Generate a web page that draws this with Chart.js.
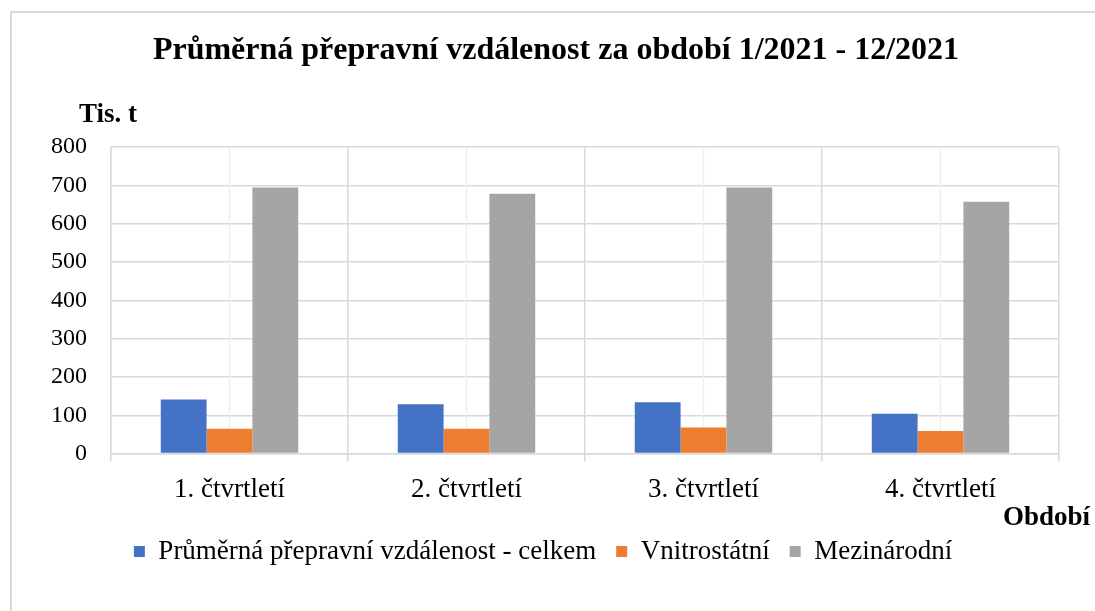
<!DOCTYPE html>
<html>
<head>
<meta charset="utf-8">
<script src="https://cdn.jsdelivr.net/npm/chart.js@4"></script>
<style>
    html, body { margin: 0; padding: 0; background: #fff; }
    #wrap { position: relative; width: 1095px; height: 611px; }
    #frame { position: absolute; left: 10px; top: 11px; right: -5px; bottom: -5px;
             border-left: 2px solid #d9d9d9; border-top: 2px solid #d9d9d9; }
    canvas { position: absolute; left: 0; top: 0; }
</style>
</head>
<body>
<div id="wrap">
    <div id="frame"></div>
    <canvas id="distChart" width="1095" height="611"></canvas>
</div>
<script>
// Data
const quarters = ['1. čtvrtletí', '2. čtvrtletí', '3. čtvrtletí', '4. čtvrtletí'];
const celkem = [141, 129, 134, 104];
const vnitrostatni = [65, 65, 68, 59];
const mezinarodni = [694, 678, 694, 657];
const yTicks = [0, 100, 200, 300, 400, 500, 600, 700, 800];

const chartTitle = 'Průměrná přepravní vzdálenost za období 1/2021 - 12/2021';
const serif = '"Liberation Serif", "Times New Roman", serif';

// Title, axis titles and light centre gridlines
const extras = {
    id: 'extras',
    beforeDatasetsDraw(chart) {
        const ctx = chart.ctx;
        const x = chart.scales.x;
        const area = chart.chartArea;
        ctx.save();
        ctx.strokeStyle = '#efefef';
        ctx.lineWidth = 1.5;
        quarters.forEach(function (q, i) {
            const px = x.getPixelForValue(i);
            ctx.beginPath();
            ctx.moveTo(px, area.top);
            ctx.lineTo(px, area.bottom);
            ctx.stroke();
        });
        ctx.restore();
    },
    afterDraw(chart) {
        const ctx = chart.ctx;
        ctx.save();
        ctx.fillStyle = '#000';
        ctx.textAlign = 'center';
        ctx.textBaseline = 'middle';
        ctx.font = 'bold 32px ' + serif;
        ctx.fillText(chartTitle, 556, 51);
        ctx.font = 'bold 27px ' + serif;
        ctx.fillText('Tis. t', 108, 115);
        ctx.textAlign = 'right';
        ctx.fillText('Období', 1090, 518);
        ctx.restore();
    }
};

new Chart(document.getElementById('distChart'), {
    type: 'bar',
    data: {
        labels: quarters,
        datasets: [
            { label: 'Průměrná přepravní vzdálenost - celkem', data: celkem, backgroundColor: '#4472c4' },
            { label: 'Vnitrostátní', data: vnitrostatni, backgroundColor: '#ed7d31' },
            { label: 'Mezinárodní', data: mezinarodni, backgroundColor: '#a5a5a5' }
        ]
    },
    options: {
        responsive: false,
        animation: false,
        categoryPercentage: 0.58,
        barPercentage: 1.0,
        layout: { padding: { left: 27, right: 36, top: 147, bottom: 36 } },
        plugins: {
            title: { display: false },
            legend: {
                position: 'bottom',
                labels: {
                    color: '#000',
                    font: { family: serif, size: 27 },
                    boxWidth: 11,
                    boxHeight: 11,
                    padding: 20
                }
            },
            tooltip: { enabled: false }
        },
        scales: {
            x: {
                grid: { offset: true, color: '#d9d9d9', lineWidth: 1.5, tickLength: 8 },
                border: { color: '#d9d9d9', width: 1.5 },
                ticks: { color: '#000', font: { family: serif, size: 27 }, padding: 12 }
            },
            y: {
                min: 0,
                max: 800,
                afterBuildTicks(scale) {
                    scale.ticks = yTicks.map(function (v) { return { value: v }; });
                },
                grid: { color: '#d9d9d9', lineWidth: 1.5, drawTicks: false },
                border: { color: '#d9d9d9', width: 1.5 },
                ticks: { color: '#000', font: { family: serif, size: 24 }, padding: 24 }
            }
        }
    },
    plugins: [extras]
});
</script>
</body>
</html>
